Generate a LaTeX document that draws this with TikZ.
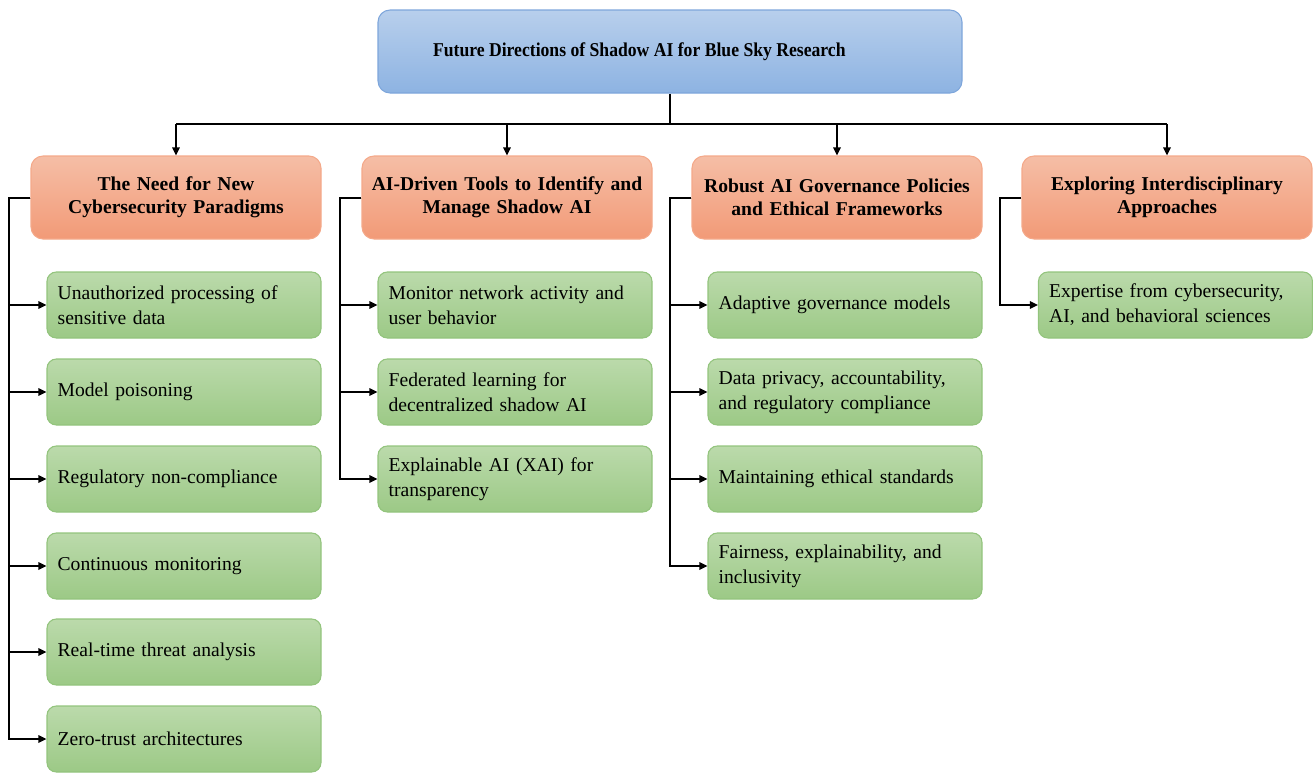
\documentclass[tikz,border=0pt]{standalone}
\usepackage{fontspec}
\setmainfont{Liberation Serif}
\usetikzlibrary{arrows.meta,positioning,calc}
\definecolor{bluetop}{HTML}{B8CFEC}
\definecolor{bluebot}{HTML}{8DB3E2}
\definecolor{blueline}{HTML}{7EA6DB}
\definecolor{ortop}{HTML}{F5BEA6}
\definecolor{orbot}{HTML}{F29A77}
\definecolor{orline}{HTML}{F4A98A}
\definecolor{grtop}{HTML}{BBDAAB}
\definecolor{grbot}{HTML}{9CC986}
\definecolor{grline}{HTML}{93C47D}
\begin{document}
\begin{tikzpicture}[x=0.75pt,y=-0.75pt,
  topbox/.style={draw=blueline,line width=0.8pt,rounded corners=9pt,top color=bluetop,bottom color=bluebot,
    minimum width=438pt,minimum height=62.25pt,inner sep=0pt,font=\fontsize{14.7}{17}\selectfont\bfseries,align=center},
  headbox/.style={draw=orline,line width=0.8pt,rounded corners=9pt,top color=ortop,bottom color=orbot,
    minimum width=217.5pt,minimum height=62.25pt,inner sep=0pt,text width=210pt,font=\fontsize{14.7}{17.5}\selectfont\bfseries,align=center},
  leafbox/.style={draw=grline,line width=0.8pt,rounded corners=7pt,top color=grtop,bottom color=grbot,
    minimum width=205.5pt,minimum height=49.5pt,inner xsep=8pt,inner ysep=0pt,text width=189.5pt,
    font=\fontsize{14.7}{18.8}\selectfont,align=left},
  conn/.style={line width=1.5pt,black},
  arr/.style={conn,-{Triangle[length=6pt,width=5.5pt]}}
]
\useasboundingbox (0,0) rectangle (1313,772);

\node[topbox] (top) at (670,51.5) {\raisebox{-1.5pt}{\scalebox{0.9}[1]{Future Directions of Shadow AI for Blue Sky Research}}\hspace{46pt}};

\node[headbox] (h1) at (176,197.5) {The Need for New\\Cybersecurity Paradigms};
\node[headbox] (h2) at (507,197.5) {AI-Driven Tools to Identify and\\Manage Shadow AI};
\node[headbox] (h3) at (837,197.5) {Robust AI Governance Policies\\and Ethical Frameworks};
\node[headbox] (h4) at (1167,197.5) {Exploring Interdisciplinary\\Approaches};

% column 1
\node[leafbox] (a1) at (184,305) {Unauthorized processing of\\sensitive data};
\node[leafbox] (a2) at (184,392) {Model poisoning};
\node[leafbox] (a3) at (184,479) {Regulatory non-compliance};
\node[leafbox] (a4) at (184,566) {Continuous monitoring};
\node[leafbox] (a5) at (184,652) {Real-time threat analysis};
\node[leafbox] (a6) at (184,739) {Zero-trust architectures};
% column 2
\node[leafbox] (b1) at (515,305) {Monitor network activity and\\user behavior};
\node[leafbox] (b2) at (515,392) {Federated learning for\\decentralized shadow AI};
\node[leafbox] (b3) at (515,479) {Explainable AI (XAI) for\\transparency};
% column 3
\node[leafbox] (c1) at (845,305) {Adaptive governance models};
\node[leafbox] (c2) at (845,392) {Data privacy, accountability,\\and regulatory compliance};
\node[leafbox] (c3) at (845,479) {Maintaining ethical standards};
\node[leafbox] (c4) at (845,566) {Fairness, explainability, and\\inclusivity};
% column 4
\node[leafbox] (d1) at (1175.5,305) {Expertise from cybersecurity,\\AI, and behavioral sciences};

% top connectors
\coordinate (bus) at (670,124);
\draw[conn] (top.south) -- (bus);
\draw[conn] (h1.north |- bus) -- (h4.north |- bus);
\foreach \h in {h1,h2,h3,h4}
  \draw[arr] (\h.north |- bus) -- (\h.north);

% left brackets
\foreach \c in {a1,a2,a3,a4,a5,a6}
  \draw[arr,line join=miter] (h1.west) -- ++(-21,0) |- (\c.west);
\foreach \c in {b1,b2,b3}
  \draw[arr,line join=miter] (h2.west) -- ++(-21,0) |- (\c.west);
\foreach \c in {c1,c2,c3,c4}
  \draw[arr,line join=miter] (h3.west) -- ++(-21,0) |- (\c.west);
\draw[arr,line join=miter] (h4.west) -- ++(-21,0) |- (d1.west);
\end{tikzpicture}
\end{document}
